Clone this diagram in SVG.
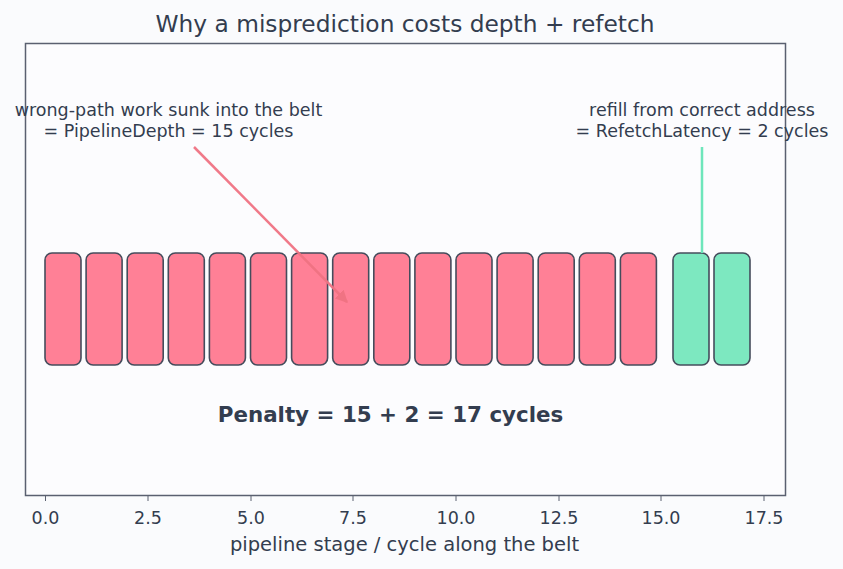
<svg xmlns="http://www.w3.org/2000/svg" width="843" height="569" viewBox="0 0 843 569">
<style>
text{font-family:"DejaVu Sans","Liberation Sans",sans-serif;fill:#333d4f}
.red rect{fill:#ff8096;stroke:#454c5c;stroke-width:1.6}
.green rect{fill:#7de8c0;stroke:#454c5c;stroke-width:1.6}
.tick{stroke:#5a6070;stroke-width:1}
.tl{font-size:17.5px;text-anchor:middle}
.ann{font-size:17.5px;text-anchor:middle}
</style>
<defs>
<marker id="ah" viewBox="0 0 10 10" refX="9" refY="5" markerWidth="5" markerHeight="5" orient="auto"><path d="M0,0 L10,5 L0,10 z" fill="#f07383"/></marker>
</defs>
<rect width="843" height="569" fill="#fafbfd"/>
<rect x="25.5" y="43.5" width="760" height="452" fill="#fcfcfe" stroke="#5a6070" stroke-width="1.5"/>
<text x="405" y="32" text-anchor="middle" style="font-size:23.3px">Why a misprediction costs depth + refetch</text>
<g id="wrong-path" class="red">
<rect x="45" y="253" width="36" height="112" rx="7"/>
<rect x="86.1" y="253" width="36" height="112" rx="7"/>
<rect x="127.2" y="253" width="36" height="112" rx="7"/>
<rect x="168.3" y="253" width="36" height="112" rx="7"/>
<rect x="209.4" y="253" width="36" height="112" rx="7"/>
<rect x="250.5" y="253" width="36" height="112" rx="7"/>
<rect x="291.6" y="253" width="36" height="112" rx="7"/>
<rect x="332.7" y="253" width="36" height="112" rx="7"/>
<rect x="373.8" y="253" width="36" height="112" rx="7"/>
<rect x="414.9" y="253" width="36" height="112" rx="7"/>
<rect x="456" y="253" width="36" height="112" rx="7"/>
<rect x="497.1" y="253" width="36" height="112" rx="7"/>
<rect x="538.2" y="253" width="36" height="112" rx="7"/>
<rect x="579.3" y="253" width="36" height="112" rx="7"/>
<rect x="620.4" y="253" width="36" height="112" rx="7"/>
</g>
<g id="refetch" class="green">
<rect x="673" y="253" width="36" height="112" rx="7"/>
<rect x="714" y="253" width="36" height="112" rx="7"/>
</g>
<g id="connectors">
<line x1="194" y1="147" x2="347" y2="302" stroke="#f07383" stroke-width="2.5" marker-end="url(#ah)" opacity="0.95"/>
<line x1="702" y1="147" x2="702" y2="253" stroke="#6ee6bb" stroke-width="2.5"/>
</g>
<g id="ann-left">
<text class="ann" x="168.5" y="116">wrong-path work sunk into the belt</text>
<text class="ann" x="168.5" y="137">= PipelineDepth = 15 cycles</text>
</g>
<g id="ann-right">
<text class="ann" x="702" y="116">refill from correct address</text>
<text class="ann" x="702" y="137">= RefetchLatency = 2 cycles</text>
</g>
<text x="390.5" y="422" text-anchor="middle" style="font-size:21.4px;font-weight:bold">Penalty = 15 + 2 = 17 cycles</text>
<g id="axis">
<line class="tick" x1="45.5" y1="495" x2="45.5" y2="501"/>
<line class="tick" x1="148" y1="495" x2="148" y2="501"/>
<line class="tick" x1="251" y1="495" x2="251" y2="501"/>
<line class="tick" x1="353" y1="495" x2="353" y2="501"/>
<line class="tick" x1="456" y1="495" x2="456" y2="501"/>
<line class="tick" x1="559" y1="495" x2="559" y2="501"/>
<line class="tick" x1="661" y1="495" x2="661" y2="501"/>
<line class="tick" x1="764" y1="495" x2="764" y2="501"/>
<text class="tl" x="45.5" y="524">0.0</text>
<text class="tl" x="148" y="524">2.5</text>
<text class="tl" x="251" y="524">5.0</text>
<text class="tl" x="353" y="524">7.5</text>
<text class="tl" x="456" y="524">10.0</text>
<text class="tl" x="559" y="524">12.5</text>
<text class="tl" x="661" y="524">15.0</text>
<text class="tl" x="764" y="524">17.5</text>
<text x="404.5" y="551" text-anchor="middle" style="font-size:19.5px">pipeline stage / cycle along the belt</text>
</g>
</svg>
